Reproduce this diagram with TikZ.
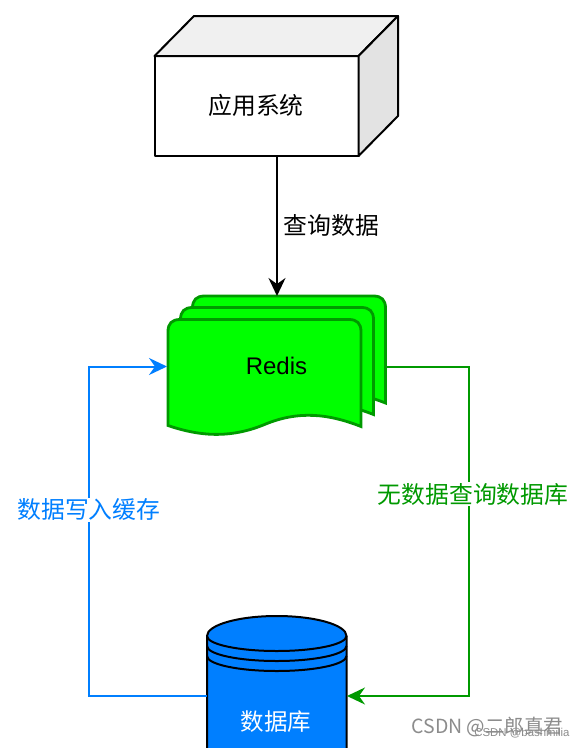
\documentclass[tikz,border=0pt]{standalone}
\usepackage{fontspec}
\setmainfont{Liberation Sans}
\newfontfamily\cjk{Noto Sans CJK SC}
\usetikzlibrary{arrows.meta}
\definecolor{rgreen}{HTML}{00FF00}
\definecolor{rgreenl}{HTML}{009900}
\definecolor{dbblue}{HTML}{007FFF}
\tikzset{
  x=1pt,y=-1pt,
  cube/.style={draw=black,line width=2pt,line join=round},
  docshape/.style={draw=rgreenl,fill=rgreen,line width=2.8pt,line join=miter},
  dbline/.style={draw=black,line width=2pt},
  link/.style={line width=2pt,-{Stealth[length=18pt,width=17pt,inset=6pt]}},
  lbl/.style={inner sep=1pt,font=\cjk\fontsize{23.8}{26}\selectfont},
  anchorpt/.style={inner sep=0pt,minimum size=0pt},
}
\begin{document}
\begin{tikzpicture}
\useasboundingbox (0,0) rectangle (584,748);
\fill[white] (0,0) rectangle (584,748);
% cube
\path[cube,fill=white] (154.5,56) rectangle (358.5,156);
\path[cube,fill=black!6] (154.5,56) -- (194,16) -- (398,16) -- (358.5,56) -- cycle;
\path[cube,fill=black!11] (358.5,56) -- (398,16) -- (398,116) -- (358.5,156) -- cycle;
\node[lbl,anchorpt] (app) at (256,105.5) {应用系统};
\coordinate (appb) at (277,157);
% redis
\newcommand{\docpath}[2]{%
  \path[docshape] (#1,#2+12) .. controls (#1,#2+4) and (#1+4,#2) .. (#1+12,#2)
   -- (#1+181,#2) .. controls (#1+189,#2) and (#1+193,#2+4) .. (#1+193,#2+12)
   -- (#1+193,#2+107) .. controls (#1+160,#2+94) and (#1+130,#2+91) .. (#1+96.5,#2+105)
   .. controls (#1+65,#2+118) and (#1+35,#2+118) .. (#1,#2+106) -- cycle;}
\docpath{192.5}{296}
\docpath{180.5}{307.5}
\docpath{168}{319.5}
\node[anchorpt,font=\fontsize{24}{26}\selectfont] (redis) at (276.5,366) {Redis};
\coordinate (redistop) at (277,296);
\coordinate (redisleft) at (167,366.5);
\coordinate (redisright) at (386,366.5);
% database
\path[fill=dbblue,dbline] (207,748) -- (207,636) arc[start angle=180,end angle=0,x radius=69.75,y radius=-20] -- (346.5,748);
\path[dbline] (207,636) arc[start angle=180,end angle=360,x radius=69.75,y radius=-15];
\path[dbline] (207,646) arc[start angle=180,end angle=360,x radius=69.75,y radius=-15];
\path[dbline] (207,656) arc[start angle=180,end angle=360,x radius=69.75,y radius=-15];
\node[anchorpt,text=white,font=\cjk\fontsize{23.5}{26}\selectfont] (db) at (276,722) {数据库};
\coordinate (dbl) at (206.5,696);
\coordinate (dbr) at (347,696);
% connectors
\draw[link,black] (appb) -- (redistop);
\node[lbl,anchor=west,inner sep=0pt] (q) at (283.5,225.5) {查询数据};
\draw[link,rgreenl] (redisright) -- (469,366.5) -- (469,696) -- (dbr);
\draw[link,dbblue] (dbl) -- (88.5,696) -- (88.5,366.5) -- (redisleft);
\node[lbl,text=rgreenl,fill=white] (g) at (473,494) {无数据查询数据库};
\node[lbl,text=dbblue,fill=white] (b) at (89,509.5) {数据写入缓存};
% watermark
\node[anchorpt,text=black!45,font=\cjk\fontsize{19.5}{22}\selectfont] (w1) at (487.5,726.5) {CSDN @二郎真君};
\node[anchorpt,text=black!45,font=\fontsize{11.4}{13}\selectfont] (w2) at (522,733) {CSDN @bashmilia};
\end{tikzpicture}
\end{document}
